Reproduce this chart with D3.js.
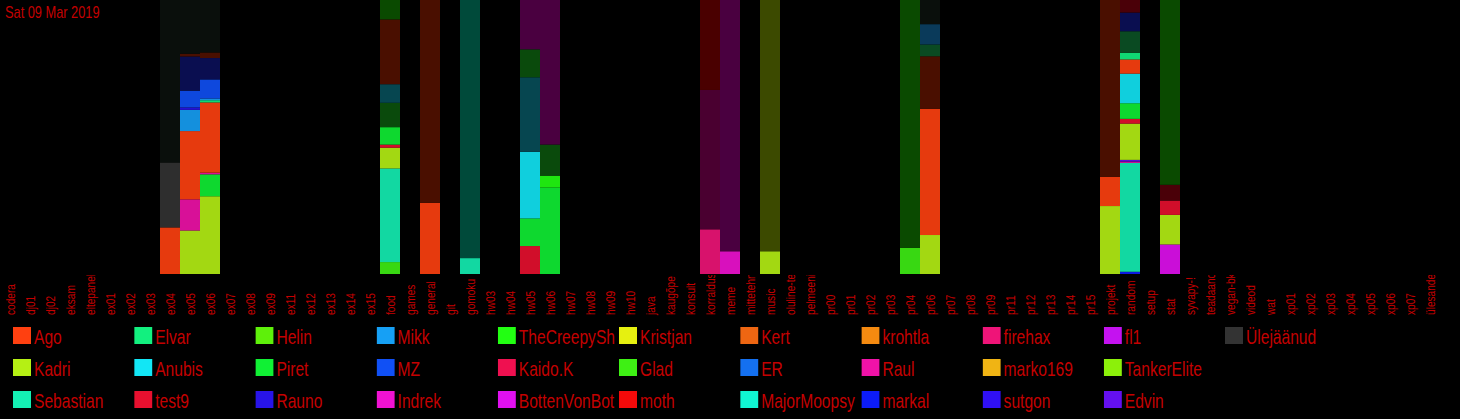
<!DOCTYPE html>
<html><head><meta charset="utf-8">
<script src="https://cdn.jsdelivr.net/npm/d3@7"></script>
<style>
html,body{margin:0;padding:0;background:#000;overflow:hidden}
text{font-family:"Liberation Sans",Arial,sans-serif}
</style></head>
<body><svg id="chart" width="1460" height="419"></svg>
<script>
const titleText = "Sat 09 Mar 2019";

const categories = ["codera","dj01","dj02","eksam","eltepanek","ex01","ex02","ex03","ex04","ex05","ex06","ex07","ex08","ex09","ex11","ex12","ex13","ex14","ex15","food","games","general","git","gomoku","hw03","hw04","hw05","hw06","hw07","hw08","hw09","hw10","java","kaugõpe","konsult","korraldus","meme","mittetehniline","music","oluline-teave","pelmeeni-","pr00","pr01","pr02","pr03","pr04","pr06","pr07","pr08","pr09","pr11","pr12","pr13","pr14","pr15","projekt","random","setup","stat","syvapy-!","teadaanded","vegan-bk","videod","wat","xp01","xp02","xp03","xp04","xp05","xp06","xp07","ülesanded"];

// legend users (column-major order) and their colours
const users = ["Ago","Kadri","Sebastian","Elvar","Anubis","test9","Helin","Piret","Rauno","Mikk","MZ","Indrek","TheCreepySh","Kaido.K","BottenVonBot","Kristjan","Glad","moth","Kert","ER","MajorMoopsy","krohtla","Raul","markal","firehax","marko169","sutgon","fl1","TankerElite","Edvin","Ülejäänud"];
const userColors = ["#ff4010","#b5f014","#14f0b4","#12f07f","#12e6f5","#e8102f","#5ef00a","#10f034","#2814e8","#16a0f5","#1050f5","#f012d2","#22ff12","#ef1050","#e010f0","#e6f010","#3ef014","#f40a0a","#ee6612","#1470f0","#10f5d2","#f58a10","#f012a8","#0c1cf8","#ef1478","#f0b414","#3010f5","#c412f0","#8cf00a","#6410f0","#333333"];

// dark shades (earlier messages)
const darkUsers  = ["Ülejäänud","Ago","MZ","Piret","Glad","Anubis","Sebastian","Indrek","Kadri","firehax","moth","test9","Elvar","Mikk"];
const darkColors = ["#0a0f0c","#4a0f00","#0a0e50","#0a4a0c","#0a4a00","#064650","#004a3a","#4a0040","#3c4a00","#4a0030","#4a0000","#4a0008","#0a4a22","#0a3a5a"];

// stacked bars: channel, segment keys (bottom -> top, "dark:" = dark shade), shares in %
const barChannels = ["ex04","ex05","ex06","food","general","gomoku","hw05","hw06","korraldus","meme","music","pr04","pr06","projekt","random","stat"];
const barKeys = [
  ["Ago","Ülejäänud","dark:Ülejäänud"],
  ["Kadri","Raul","Ago","Mikk","Rauno","MZ","dark:MZ","dark:Ago","dark:Ülejäänud"],
  ["Kadri","Piret","Raul","Ago","Elvar","Mikk","MZ","dark:MZ","dark:Ago","dark:Ülejäänud"],
  ["Glad","Sebastian","Kadri","test9","Piret","dark:Piret","dark:Anubis","dark:Ago","dark:Glad"],
  ["Ago","dark:Ago"],
  ["Sebastian","dark:Sebastian"],
  ["test9","Piret","Anubis","dark:Anubis","dark:Piret","dark:Indrek"],
  ["Piret","TheCreepySh","dark:Piret","dark:Indrek"],
  ["firehax","dark:firehax","dark:moth"],
  ["Indrek","dark:Indrek"],
  ["Kadri","dark:Kadri"],
  ["Glad","dark:Glad"],
  ["Kadri","Ago","dark:Ago","dark:Elvar","dark:Mikk","dark:Ülejäänud"],
  ["Kadri","Ago","dark:Ago"],
  ["markal","Sebastian","Raul","Edvin","Kadri","test9","Piret","Anubis","Ago","Elvar","dark:Elvar","dark:MZ","dark:test9"],
  ["BottenVonBot","Kadri","test9","dark:test9","dark:Glad"]
];
const barShares = [
  [17.0,23.7,59.3],
  [15.8,11.3,24.8,7.7,0.9,6.1,12.4,1.0,19.5],
  [28.0,7.9,0.6,25.3,0.8,0.6,6.9,7.7,2.0,18.9],
  [4.3,33.8,7.5,1.1,6.3,8.8,6.7,23.4,7.0],
  [26.0,74.0],
  [5.8,94.2],
  [10.2,10.1,24.3,27.2,10.2,18.0],
  [31.5,4.3,11.3,52.6],
  [16.3,50.8,32.8],
  [8.3,91.7],
  [8.3,91.7],
  [9.5,90.5],
  [14.2,46.0,19.1,4.3,7.4,8.8],
  [24.8,10.7,64.5],
  [0.8,39.0,0.5,0.6,13.0,1.7,5.6,10.6,5.1,2.4,7.7,6.7,4.5],
  [10.7,10.7,5.2,5.7,66.9]
];

const textRed = "#c40000";
const narrow = 0.78; // horizontal squeeze to imitate a condensed face
const svg = d3.select("#chart");
svg.append("rect").attr("width",1460).attr("height",419).attr("fill","#000");

const x = d3.scaleBand().domain(categories).range([0,1440]).padding(0);
const y = d3.scaleLinear().domain([0,100]).range([274,0]);
const brightColor = d3.scaleOrdinal().domain(users).range(userColors);
const darkColor = d3.scaleOrdinal().domain(darkUsers).range(darkColors);

function segColor(k){
  return k.startsWith("dark:") ? darkColor(k.slice(5)) : brightColor(k);
}

const segs = [];
barChannels.forEach((ch,i)=>{
  const vals = barShares[i];
  const total = d3.sum(vals);
  const cum = d3.cumsum(vals);
  vals.forEach((v,j)=>{
    segs.push({ch, key:barKeys[i][j], y0:(cum[j]-v)/total*100, y1:cum[j]/total*100});
  });
});

svg.append("g").selectAll("rect").data(segs).join("rect")
  .attr("x", d=>x(d.ch))
  .attr("width", x.bandwidth())
  .attr("y", d=>y(d.y1))
  .attr("height", d=>y(d.y0)-y(d.y1))
  .attr("fill", d=>segColor(d.key))
  .attr("fill-opacity", d=>d.key.startsWith("dark:")?1:0.9);

// category axis
const defs = svg.append("defs");
defs.append("clipPath").attr("id","axclip").append("rect")
  .attr("x",0).attr("y",275).attr("width",1460).attr("height",60);
const axWrap = svg.append("g").attr("clip-path","url(#axclip)");
const axG = axWrap.append("g").attr("transform","translate(0,315)")
  .call(d3.axisBottom(x).tickSize(0).tickPadding(0));
axG.select(".domain").remove();
axG.selectAll(".tick text")
  .attr("transform",`rotate(-90) scale(0.78,1)`)
  .attr("x",0).attr("y",4.5).attr("dy",null)
  .attr("text-anchor","start")
  .attr("fill",textRed)
  .style("font-size","13px")
  .style("font-family",'"Liberation Sans",Arial,sans-serif');

// title
svg.append("text").attr("transform",`translate(5,18) scale(0.8,1)`).attr("fill",textRed)
  .style("font-size","16px").text(titleText);

// legend
const colStep = 121.2;
const leg = svg.append("g");
users.forEach((u,i)=>{
  const col = Math.floor(i/3), row = i%3;
  const lx = 13 + col*colStep, ly = 327 + row*32;
  defs.append("clipPath").attr("id","lc"+i).append("rect")
    .attr("x",lx).attr("y",ly-8).attr("width",colStep-3).attr("height",34);
  const g = leg.append("g").attr("clip-path","url(#lc"+i+")");
  g.append("rect").attr("x",lx).attr("y",ly).attr("width",18).attr("height",17).attr("fill",userColors[i]);
  g.append("text").attr("transform",`translate(${lx+21},${ly+17}) scale(${narrow},1)`).attr("fill",textRed)
    .style("font-size","20px").text(u);
});
</script></body></html>
